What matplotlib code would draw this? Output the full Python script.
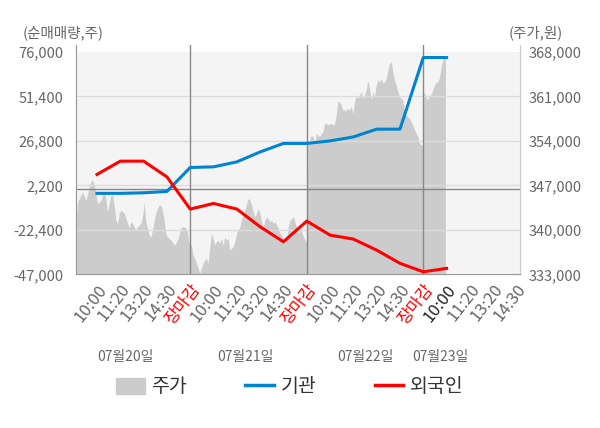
import numpy as np
import matplotlib.pyplot as plt
from matplotlib.patches import Patch
from matplotlib.lines import Line2D

plt.rcParams['font.family'] = ['Noto Sans CJK KR', 'DejaVu Sans']

# x축 라벨 (일자별 5개 구간)
tick_labels = ['10:00', '11:20', '13:20', '14:30', '장마감',
               '10:00', '11:20', '13:20', '14:30', '장마감',
               '10:00', '11:20', '13:20', '14:30', '장마감',
               '10:00', '11:20', '13:20', '14:30']
dates = ['07월20일', '07월21일', '07월22일', '07월23일']
date_pos = [2.2, 7.35, 12.5, 15.75]

# 순매매량 (주), 구간별
inst = [-2200, -2200, -1900, -1150, 12100, 12450, 15200, 20700, 25400,
        25400, 26800, 29000, 33300, 33300, 72900, 72900]
foreign = [8250, 15600, 15600, 6900, -10900, -7800, -10900, -20700, -29000,
           -17550, -25300, -27500, -33600, -40900, -45600, -43700]

# 주가 (원), 일자별
price_d1 = [341800, 344400, 344950, 345470, 346000, 345200, 344700, 345700, 346800,
            347600, 347900, 347050, 345700, 344150, 344400, 344700, 345470, 346000,
            344700, 342850, 344150, 345470, 345470, 343650, 341550, 341000, 342600,
            343100, 342850, 342600, 341800, 341000, 340250, 341300, 341000, 340500,
            339950, 340500, 340750, 341000, 342050, 344400, 341300, 340250, 339200,
            338900, 339950, 341550, 342600, 343400, 343900, 343900, 343100, 341550,
            339450, 338900, 338650, 338400, 338100, 337600, 337900, 338400, 339200,
            340250, 340500, 340500, 340250, 339700, 337900]
price_d2 = [337610, 336040, 335520, 334730, 334100, 333160, 333940, 334730, 335250,
            335520, 334730, 337340, 339450, 338660, 337610, 338130, 338400, 337880,
            338660, 337610, 338920, 338400, 338660, 336820, 337090, 337340, 338130,
            339450, 339970, 340490, 341540, 342600, 343110, 344170, 344950, 344690,
            343900, 342850, 342060, 342600, 343380, 342600, 341270, 340490, 341540,
            342060, 341800, 341270, 341540, 341020, 341270, 340750, 340240, 339450,
            339180, 338660, 337610, 338660, 340490, 341540, 341800, 342060, 341270,
            340240, 339450, 339970, 339710, 338920, 338400, 338130]
price_d3 = [353600, 354100, 354910, 354650, 353600, 355180, 354910, 354650, 355180,
            355430, 356750, 356750, 356490, 356750, 356750, 356490, 356750, 358060,
            360150, 360150, 359630, 358840, 358840, 358840, 359110, 358840, 359360,
            358330, 360150, 361200, 360680, 361200, 361720, 360680, 361200, 361990,
            363560, 362260, 360420, 361720, 360940, 362780, 363560, 363300, 363830,
            363040, 363300, 363830, 365140, 366190, 366440, 364870, 363560, 362780,
            361720, 360940, 360680, 360420, 358840, 358060, 357790, 357540, 357010,
            356490, 355700, 355180, 354650, 353600, 353340, 353340]
price_d4 = [361720, 361200, 360420, 360940, 361200, 361720, 362510, 363040, 363300,
            363560, 364870, 366440, 366970, 366970]

gray = '#666666'

fig = plt.figure(figsize=(6, 4.28), dpi=100)
ax = fig.add_axes([0.1267, 0.359, 0.74, 0.536])
ax.set_facecolor('white')
ax2 = ax.twinx()

# 주가 영역
xp = np.concatenate([np.linspace(0.1, 4.95, len(price_d1)),
                     np.linspace(5.05, 10.0, len(price_d2)),
                     np.linspace(10.05, 14.98, len(price_d3)),
                     np.linspace(15.02, 15.95, len(price_d4))])
yp = np.concatenate([price_d1, price_d2, price_d3, price_d4])
ax2.axhspan(333000, 368000, color='#f4f4f4', zorder=0, lw=0)
ax2.fill_between(xp, 333000, yp, color='#cccccc', lw=0, zorder=1)
ax2.set_ylim(333000, 369100)
ax2.set_yticks(np.arange(333000, 368001, 7000))
ax2.set_yticklabels([f'{v:,}' for v in range(333000, 368001, 7000)])

# 좌축 값은 ax2 좌표로 옮겨서 주가 위에 그림
lticks = np.arange(-47000, 76001, 24600)
ax.set_ylim(-47000, 79870)
ax.set_xlim(0.1, 19.15)
ax.set_yticks(lticks)
ax.set_yticklabels([f'{v:,}' for v in lticks])

def to_right(v):
    lo, hi = ax.get_ylim()
    lo2, hi2 = ax2.get_ylim()
    return lo2 + (np.asarray(v) - lo) / (hi - lo) * (hi2 - lo2)

for v in lticks[1:-1]:
    ax2.axhline(to_right(v), color='#dcdcdc', lw=1, zorder=2)
ax2.axhline(to_right(0), color='#888888', lw=1, zorder=2)
for d in [5, 10, 15]:
    ax2.axvline(d, color='#888888', lw=1, zorder=2)

xi = np.arange(1, len(inst) + 1)
ax2.plot(xi, to_right(inst), color='#0083d0', lw=2.2, zorder=4)
ax2.plot(xi, to_right(foreign), color='#ff0000', lw=2.2, zorder=4)
ax.set_zorder(ax2.get_zorder() - 1)
ax2.patch.set_visible(False)

ax.set_xticks(np.arange(1, len(tick_labels) + 1))
ax.set_xticklabels(tick_labels, rotation=52, ha='right', rotation_mode='anchor')
for i, t in enumerate(ax.get_xticklabels()):
    if tick_labels[i] == '장마감':
        t.set_color('red')
    elif i == 15:
        t.set_color('#222222')
    else:
        t.set_color(gray)
ax.tick_params(axis='x', length=0, labelsize=12, pad=5)
ax.tick_params(axis='y', length=0, labelsize=10.5, labelcolor=gray, pad=9)
ax2.tick_params(axis='y', length=0, labelsize=10.5, labelcolor=gray, pad=6)

for a in (ax, ax2):
    a.spines['top'].set_visible(False)
    a.spines['left'].set_color('#999999')
    a.spines['bottom'].set_color('#999999')
    a.spines['right'].set_color('#cccccc')

for d, p in zip(dates, date_pos):
    ax.text(p, -0.36, d, transform=ax.get_xaxis_transform(), ha='center', va='center',
            fontsize=10, color=gray)

fig.text(0.037, 0.923, '(순매매량,주)', fontsize=10.5, color=gray, va='center')
fig.text(0.847, 0.923, '(주가,원)', fontsize=10.5, color=gray, va='center')

handles = [Patch(color='#cccccc'), Line2D([], [], color='#0083d0', lw=2.5),
           Line2D([], [], color='#ff0000', lw=2.5)]
fig.legend(handles, ['주가', '기관', '외국인'], loc='center', bbox_to_anchor=(0.483, 0.096),
           ncol=3, frameon=False, fontsize=14, handlelength=1.45, handleheight=0.9,
           columnspacing=3.0, handletextpad=0.35, labelcolor='#333333')

fig.savefig('out.png')
